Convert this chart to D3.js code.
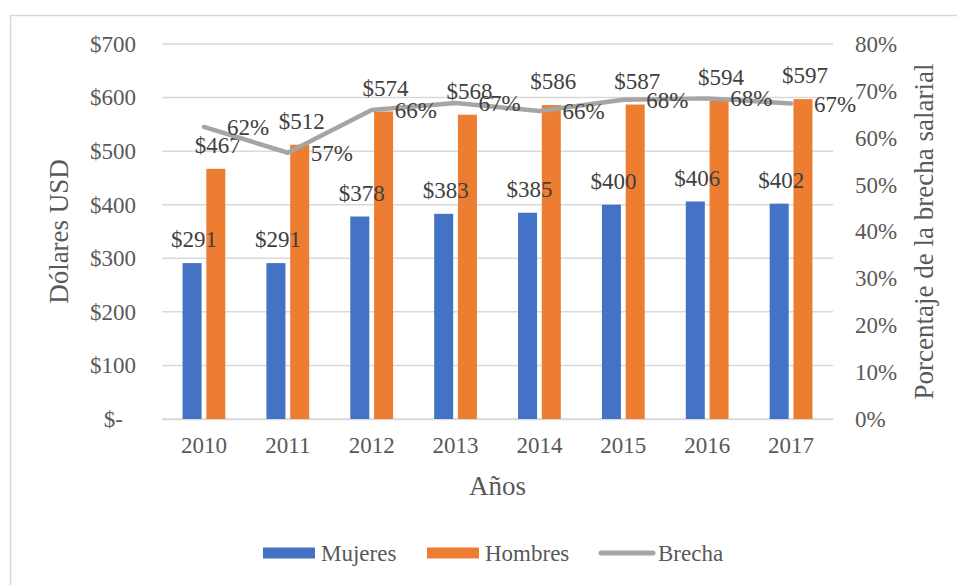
<!DOCTYPE html>
<head>
    <meta charset="utf-8">
    <style>
        body { margin: 0; background: #fff; }
        svg, svg text { font-family: "Liberation Serif", "Times New Roman", serif; }
        .grid line { stroke: #d9d9d9; stroke-width: 1.5; }
        .tick-label { fill: #595959; font-size: 23px; }
        .axis-title { fill: #595959; font-size: 27px; }
        .data-label { fill: #404040; font-size: 23px; }
    </style>
</head>
<body>
<svg width="957" height="585" class="combo-chart"></svg>
<script src="https://cdn.jsdelivr.net/npm/d3@7"></script>
<script>
    const years = ['2010', '2011', '2012', '2013', '2014', '2015', '2016', '2017'];
    const mujeres = [291, 291, 378, 383, 385, 400, 406, 402];
    const hombres = [467, 512, 574, 568, 586, 587, 594, 597];
    const brecha = [0.623, 0.568, 0.659, 0.674, 0.657, 0.681, 0.684, 0.673];
    const brechaLabels = ['62%', '57%', '66%', '67%', '66%', '68%', '68%', '67%'];
    const usdTicks = [0, 100, 200, 300, 400, 500, 600, 700];
    const pctTicks = [0, 0.1, 0.2, 0.3, 0.4, 0.5, 0.6, 0.7, 0.8];
    const seriesNames = ['Mujeres', 'Hombres'];
    const colors = {Mujeres: '#4472c4', Hombres: '#ed7d31', Brecha: '#a5a5a5'};

    var svg = d3.select(".combo-chart"),
        margin = {top: 44, right: 124, bottom: 166, left: 162},
        width = +svg.attr("width") - margin.left - margin.right,
        height = +svg.attr("height") - margin.top - margin.bottom;

    // chart frame
    svg.append("rect")
        .attr("x", 10.5).attr("y", 15.5)
        .attr("width", 980).attr("height", 620)
        .attr("fill", "none").attr("stroke", "#d9d9d9").attr("stroke-width", 1.5);

    var x0 = d3.scaleBand().domain(years).range([0, width]).paddingInner(0.49).paddingOuter(0.245),
        x1 = d3.scaleBand().domain(seriesNames).range([0, x0.bandwidth()]).paddingInner(0.2),
        y = d3.scaleLinear().domain([0, 700]).range([height, 0]),
        y2 = d3.scaleLinear().domain([0, 0.8]).range([height, 0]);

    var g = svg.append("g")
        .attr("transform", "translate(" + margin.left + "," + margin.top + ")");

    // gridlines
    g.append("g").attr("class", "grid")
        .selectAll("line")
        .data(usdTicks)
        .enter().append("line")
        .attr("x1", 0).attr("x2", width)
        .attr("y1", d => y(d)).attr("y2", d => y(d));

    // left axis
    var left = g.append("g")
        .call(d3.axisLeft(y).tickValues(usdTicks).tickSize(0).tickPadding(26)
            .tickFormat(d => d === 0 ? "$-" : "$" + d))
        .attr("font-family", null).attr("font-size", null);
    left.select(".domain").remove();
    left.selectAll("text").attr("class", "tick-label").attr("fill", null)
        .attr("dx", d => d === 0 ? -13 : 0);

    // right axis
    var right = g.append("g")
        .attr("transform", "translate(" + width + ",0)")
        .call(d3.axisRight(y2).tickValues(pctTicks).tickSize(0).tickPadding(22)
            .tickFormat(d3.format(".0%")))
        .attr("font-family", null).attr("font-size", null);
    right.select(".domain").remove();
    right.selectAll("text").attr("class", "tick-label").attr("fill", null);

    // bottom axis
    var bottom = g.append("g")
        .attr("transform", "translate(0," + height + ")")
        .call(d3.axisBottom(x0).tickSize(0).tickPadding(18))
        .attr("font-family", null).attr("font-size", null);
    bottom.select(".domain").attr("stroke", "#d9d9d9").attr("stroke-width", 1.5);
    bottom.selectAll("text").attr("class", "tick-label").attr("fill", null);

    // bars
    var rows = years.map((yr, i) => ({year: yr, Mujeres: mujeres[i], Hombres: hombres[i]}));
    var groups = g.selectAll(".year")
        .data(rows)
        .enter().append("g")
        .attr("class", "year")
        .attr("transform", d => "translate(" + x0(d.year) + ",0)");

    groups.selectAll("rect")
        .data(d => seriesNames.map(k => ({key: k, value: d[k]})))
        .enter().append("rect")
        .attr("x", d => x1(d.key))
        .attr("y", d => y(d.value))
        .attr("width", x1.bandwidth())
        .attr("height", d => height - y(d.value))
        .attr("fill", d => colors[d.key]);

    // line
    var line = d3.line()
        .x((d, i) => x0(years[i]) + x0.bandwidth() / 2)
        .y(d => y2(d));
    g.append("path")
        .datum(brecha)
        .attr("d", line)
        .attr("fill", "none")
        .attr("stroke", colors.Brecha)
        .attr("stroke-width", 4.5)
        .attr("stroke-linejoin", "round")
        .attr("stroke-linecap", "round");

    // bar labels
    groups.selectAll(".data-label")
        .data(d => seriesNames.map(k => ({key: k, value: d[k]})))
        .enter().append("text")
        .attr("class", "data-label")
        .attr("text-anchor", "middle")
        .attr("x", d => x1(d.key) + x1.bandwidth() / 2 + 2)
        .attr("y", d => y(d.value) - 16)
        .text(d => "$" + d.value);

    // line labels
    g.selectAll(".pct-label")
        .data(brecha)
        .enter().append("text")
        .attr("class", "data-label")
        .attr("x", (d, i) => x0(years[i]) + x0.bandwidth() / 2 + 23)
        .attr("y", d => y2(d))
        .attr("dy", "0.35em")
        .text((d, i) => brechaLabels[i]);

    // axis titles
    svg.append("text")
        .attr("class", "axis-title")
        .attr("text-anchor", "middle")
        .attr("transform", "translate(68," + (margin.top + height / 2) + ") rotate(-90)")
        .text("Dólares USD");

    svg.append("text")
        .attr("class", "axis-title")
        .attr("text-anchor", "middle")
        .attr("transform", "translate(933," + (margin.top + height / 2) + ") rotate(-90)")
        .text("Porcentaje de la brecha salarial");

    svg.append("text")
        .attr("class", "axis-title")
        .attr("text-anchor", "middle")
        .attr("x", margin.left + width / 2)
        .attr("y", 495)
        .text("Años");

    // legend
    var legendItems = [
        {name: 'Mujeres', x: 263, type: 'rect'},
        {name: 'Hombres', x: 427, type: 'rect'},
        {name: 'Brecha', x: 599, type: 'line'}
    ];
    var legend = svg.append("g").selectAll("g")
        .data(legendItems)
        .enter().append("g")
        .attr("transform", d => "translate(" + d.x + ",553)");
    legend.filter(d => d.type === 'rect').append("rect")
        .attr("x", 0).attr("y", -5.5)
        .attr("width", 52).attr("height", 11)
        .attr("fill", d => colors[d.name]);
    legend.filter(d => d.type === 'line').append("line")
        .attr("x1", 2).attr("x2", 54)
        .attr("stroke", colors.Brecha).attr("stroke-width", 5)
        .attr("stroke-linecap", "round");
    legend.append("text")
        .attr("class", "tick-label")
        .attr("x", d => d.type === 'line' ? 59 : 58)
        .attr("dy", "0.35em")
        .text(d => d.name);
</script>
</body>
